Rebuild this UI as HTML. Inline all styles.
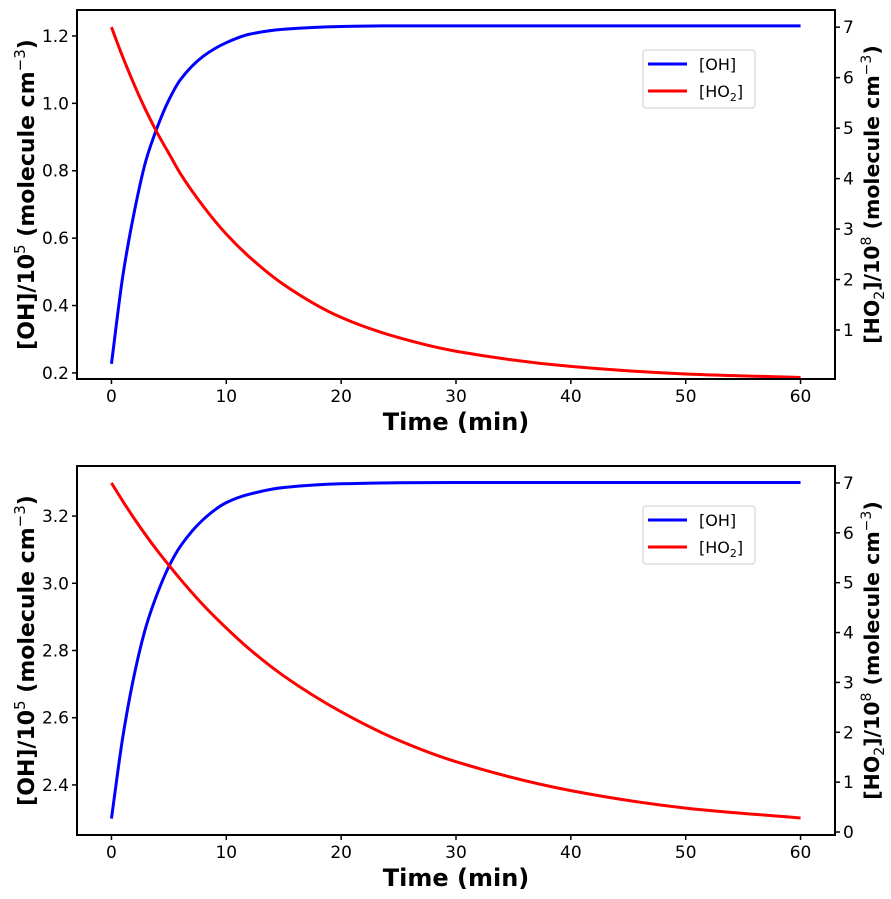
<!DOCTYPE html>
<html><head><meta charset="utf-8"><style>
html,body{margin:0;padding:0;background:#fff;}
svg{display:block;font-family:"DejaVu Sans","Liberation Sans",sans-serif;}
</style></head><body>
<svg id="c" width="891" height="899" viewBox="0 0 891 899" xmlns="http://www.w3.org/2000/svg"></svg>
<script>
const times = [0,1,2,3,4,5,6,8,10,12,15,20,25,30,40,50,60];
const ohTop = [0.227,0.49,0.68,0.83,0.93,1.01,1.07,1.14,1.18,1.205,1.22,1.228,1.23,1.23,1.23,1.23,1.23];
const ho2Top = [7,6.4,5.85,5.35,4.9,4.5,4.1,3.45,2.9,2.45,1.9,1.25,0.85,0.58,0.28,0.13,0.06];
const ohBottom = [2.3,2.545,2.73,2.87,2.97,3.05,3.11,3.19,3.24,3.265,3.285,3.296,3.299,3.3,3.3,3.3,3.3];
const ho2Bottom = [7,6.63,6.28,5.95,5.64,5.35,5.07,4.55,4.09,3.67,3.13,2.41,1.84,1.41,0.83,0.48,0.28];
const xTicks = [0,10,20,30,40,50,60];
const leftTicksTop = ["0.2","0.4","0.6","0.8","1.0","1.2"];
const rightTicksTop = [1,2,3,4,5,6,7];
const leftTicksBottom = ["2.4","2.6","2.8","3.0","3.2"];
const rightTicksBottom = [0,1,2,3,4,5,6,7];

const NS="http://www.w3.org/2000/svg";
const svg=document.getElementById('c');
function mk(tag,attrs,parent){const e=document.createElementNS(NS,tag);for(const k in attrs)e.setAttribute(k,attrs[k]);(parent||svg).appendChild(e);return e;}

// monotone cubic (Fritsch-Carlson) in data space
function slopes(xs,ys){
  const n=xs.length,d=[],m=[];
  for(let i=0;i<n-1;i++)d.push((ys[i+1]-ys[i])/(xs[i+1]-xs[i]));
  m[0]=d[0];m[n-1]=d[n-2];
  for(let i=1;i<n-1;i++){
    if(d[i-1]*d[i]<=0)m[i]=0;
    else{const h0=xs[i]-xs[i-1],h1=xs[i+1]-xs[i];const w1=2*h1+h0,w2=h1+2*h0;m[i]=(w1+w2)/(w1/d[i-1]+w2/d[i]);}
  }
  return m;
}

function panel(cfg){
  const g=mk('g',{});
  
  
  const L=77,R=835,T=cfg.top,B=cfg.top+369;
  const x=t=>L+(t-(-3))/(66)*(R-L);
  const yl=v=>T+(cfg.lmax-v)/(cfg.lmax-cfg.lmin)*(B-T);
  const yr=v=>T+(cfg.rmax-v)/(cfg.rmax-cfg.rmin)*(B-T);
  function path(vals,yf,color,nm){
    const m=slopes(times,vals);
    let d='M'+x(times[0])+','+yf(vals[0]);
    for(let i=0;i<times.length-1;i++){
      const h=times[i+1]-times[i];
      const t1=times[i]+h/3,t2=times[i+1]-h/3;
      const v1=vals[i]+m[i]*h/3,v2=vals[i+1]-m[i+1]*h/3;
      d+=' C'+x(t1)+','+yf(v1)+' '+x(t2)+','+yf(v2)+' '+x(times[i+1])+','+yf(vals[i+1]);
    }
    const p=mk('path',{d:d,fill:'none',stroke:color,'stroke-width':3,'stroke-linejoin':'round'},g);
    
    
  }
  path(cfg.oh,yl,'#0000ff','oh-line');
  path(cfg.ho2,yr,'#ff0000','ho2-line');
  const frame=mk('rect',{x:L,y:T,width:R-L,height:B-T,fill:'none',stroke:'#000','stroke-width':2},g);
  
  
  xTicks.forEach(t=>{
    mk('line',{x1:x(t),x2:x(t),y1:B,y2:B+5,stroke:'#000','stroke-width':1.5},g);
    const tx=mk('text',{x:x(t),y:B+23,'font-size':17,'text-anchor':'middle'},g);
    tx.textContent=t;
    
    
  });
  cfg.lt.forEach(s=>{
    const v=parseFloat(s);
    mk('line',{x1:L-5,x2:L,y1:yl(v),y2:yl(v),stroke:'#000','stroke-width':1.5},g);
    const tx=mk('text',{x:L-8,y:yl(v)+6,'font-size':17,'text-anchor':'end'},g);
    tx.textContent=s;
    
    
  });
  cfg.rt.forEach(v=>{
    mk('line',{x1:R,x2:R+5,y1:yr(v),y2:yr(v),stroke:'#000','stroke-width':1.5},g);
    const tx=mk('text',{x:R+8,y:yr(v)+6,'font-size':17,'text-anchor':'start'},g);
    tx.textContent=v;
    
    
  });
  const xl=mk('text',{x:456,y:B+51,'font-size':24,'font-weight':'bold','text-anchor':'middle'},g);
  xl.textContent='Time (min)';
  
  
  const cy=(T+B)/2;
  const ly=mk('text',{x:0,y:0,'font-size':22,'font-weight':'bold','text-anchor':'middle',transform:'translate(34,'+cy+') rotate(-90)'},g);
  ly.innerHTML='[OH]/10<tspan dy="-9" font-size="15" font-weight="normal">5</tspan><tspan dy="9"> (molecule cm</tspan><tspan dy="-9" font-size="15" font-weight="normal">−3</tspan><tspan dy="9">)</tspan>';
  
  
  const ry=mk('text',{x:0,y:0,'font-size':20.5,'font-weight':'bold','text-anchor':'middle',transform:'translate(879,'+cy+') rotate(-90)'},g);
  ry.innerHTML='[HO<tspan dy="5" font-size="14" font-weight="normal">2</tspan><tspan dy="-5">]/10</tspan><tspan dy="-8" font-size="14" font-weight="normal">8</tspan><tspan dy="8"> (molecule cm</tspan><tspan dy="-8" font-size="14" font-weight="normal">−3</tspan><tspan dy="8">)</tspan>';
  
  
  const lg=mk('g',{},g);
  
  
  const ly0=T+40;
  mk('rect',{x:643,y:ly0,width:112,height:58,rx:3,fill:'#fff',stroke:'#cccccc','stroke-width':1},lg);
  mk('line',{x1:648,x2:687,y1:ly0+14,y2:ly0+14,stroke:'#0000ff','stroke-width':3},lg);
  mk('line',{x1:648,x2:687,y1:ly0+41,y2:ly0+41,stroke:'#ff0000','stroke-width':3},lg);
  const t1=mk('text',{x:699,y:ly0+20,'font-size':16},lg);t1.textContent='[OH]';
  
  
  const t2=mk('text',{x:699,y:ly0+47,'font-size':16},lg);
  t2.innerHTML='[HO<tspan dy="4" font-size="11">2</tspan><tspan dy="-4">]</tspan>';
  
  
}
panel({name:'top-panel',top:10,lmin:0.182,lmax:1.277,rmin:0.03,rmax:7.34,oh:ohTop,ho2:ho2Top,lt:leftTicksTop,rt:rightTicksTop});
panel({name:'bottom-panel',top:466,lmin:2.251,lmax:3.349,rmin:-0.06,rmax:7.34,oh:ohBottom,ho2:ho2Bottom,lt:leftTicksBottom,rt:rightTicksBottom});
</script>
</body></html>
